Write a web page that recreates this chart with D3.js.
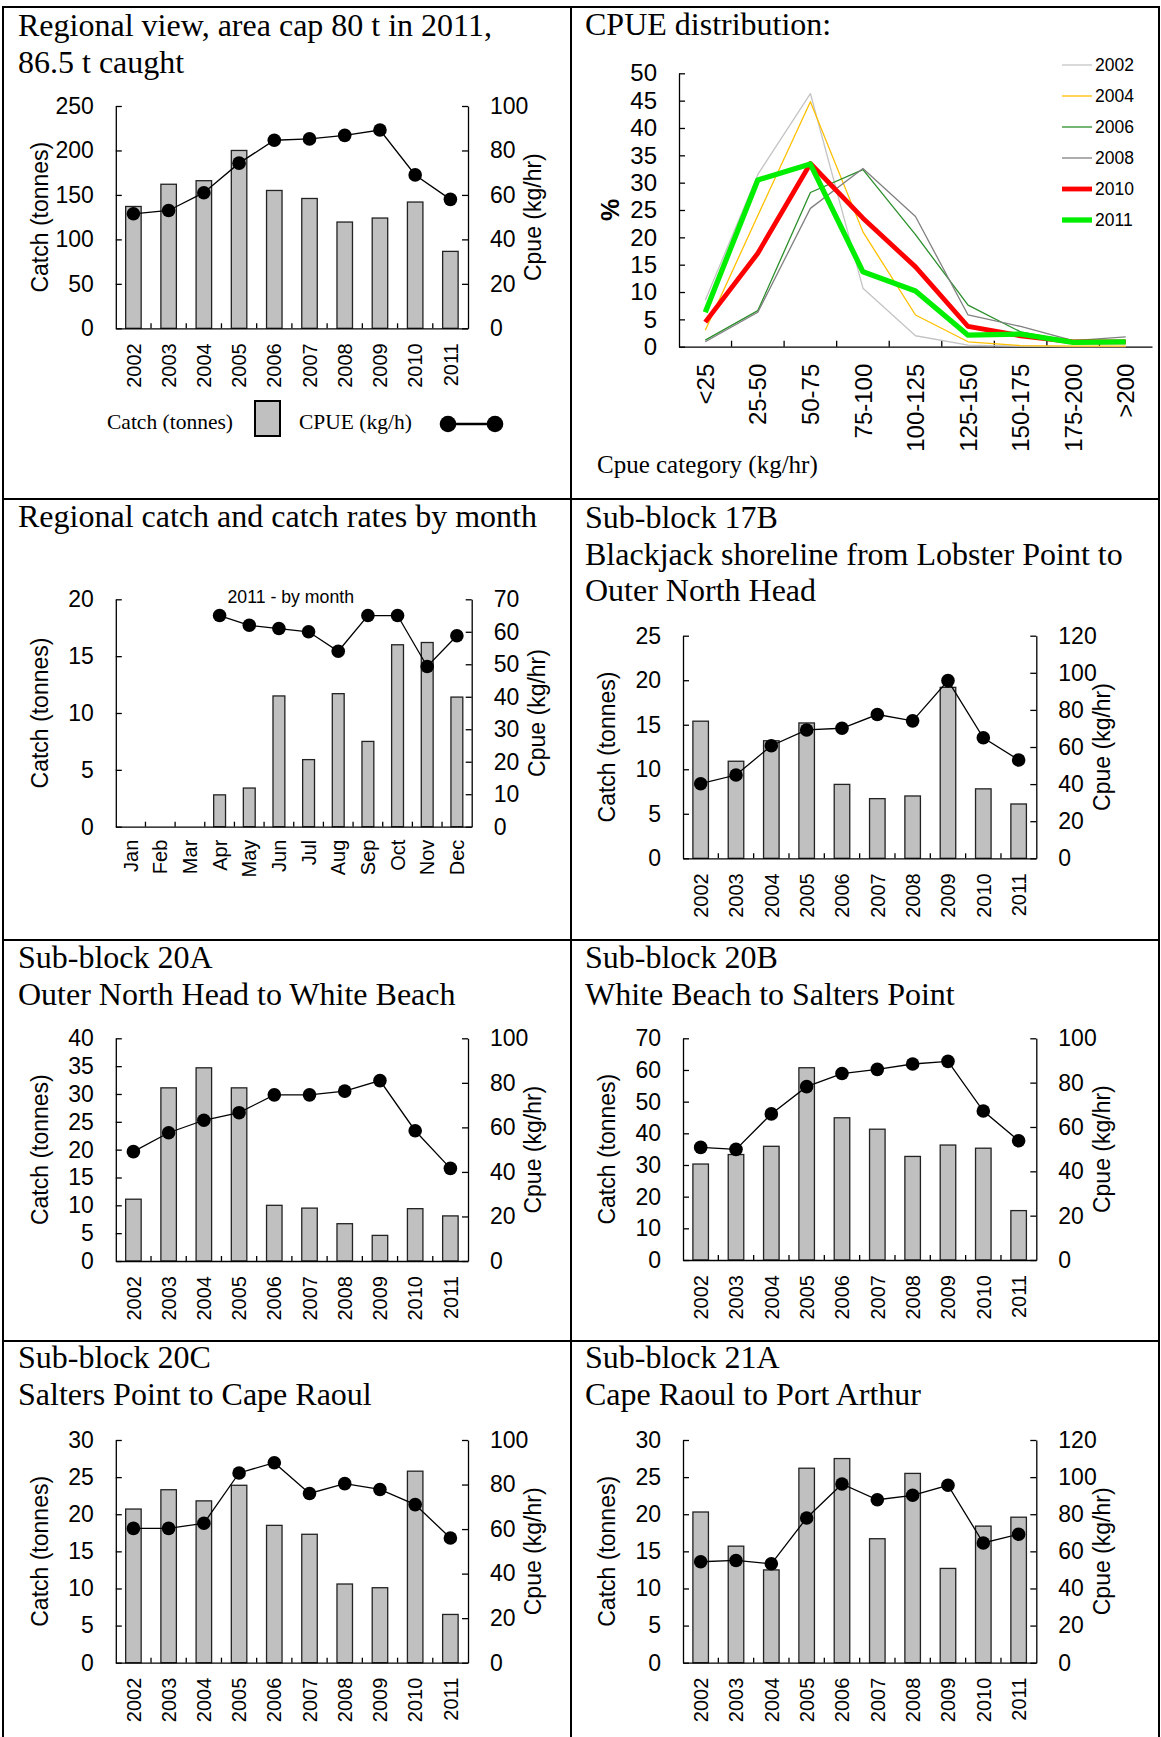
<head>
    <meta charset="utf-8" />
    <script src="https://d3js.org/d3.v7.min.js"></script>
</head>
<style>
    body { margin: 0; background: #fff; }
    text { fill: #000; }
</style>
<body>
</body>
<script>
// ---- data ----
var years = ["2002","2003","2004","2005","2006","2007","2008","2009","2010","2011"];
var months = ["Jan","Feb","Mar","Apr","May","Jun","Jul","Aug","Sep","Oct","Nov","Dec"];
var cpueCategories = ["<25","25-50","50-75","75-100","100-125","125-150","150-175","175-200",">200"];

var regionCatch = [137, 162, 166, 200, 155, 146, 119.5, 124, 142, 86.5];
var regionCpue  = [51.5, 53, 61, 74.3, 84.6, 85.2, 86.8, 89.2, 69, 58];

var monthCatch = [null, null, null, 2.8, 3.4, 11.5, 5.9, 11.7, 7.5, 16.0, 16.2, 11.4];
var monthCpue  = [null, null, null, 65, 62, 61, 60, 54, 65, 65, 49.3, 58.8];

var dist2002 = [8.5, 31.5, 46.3, 10.7, 2, 0.3, 0.1, 0, 0];
var dist2004 = [3, 24, 44.8, 21, 5.8, 0.9, 0.2, 0.1, 0.1];
var dist2006 = [1.2, 6.6, 28.2, 32.4, 20.5, 7.6, 2.7, 0.9, 1.0];
var dist2008 = [0.9, 6.3, 25.3, 32.6, 23.8, 5.8, 3.7, 1.1, 1.8];
var dist2010 = [4.5, 17.1, 33.5, 23.5, 14.6, 3.7, 2.0, 0.9, 0.9];
var dist2011 = [6.3, 30.5, 33.4, 13.7, 10.2, 2.1, 2.3, 0.8, 0.9];
var distYears = ["2002","2004","2006","2008","2010","2011"];

var catch17B = [15.4, 10.9, 13.2, 15.2, 8.3, 6.7, 7.0, 19.2, 7.8, 6.1];
var cpue17B  = [40.2, 44.9, 60.7, 69.2, 70.1, 77.5, 74.1, 95.8, 65, 53];

var catch20A = [11.1, 31.1, 34.7, 31.1, 10, 9.5, 6.7, 4.6, 9.4, 8.1];
var cpue20A  = [49.1, 57.6, 63.2, 66.6, 74.6, 74.6, 76.3, 81, 58.5, 41.6];

var catch20B = [30.3, 33.3, 35.9, 60.7, 44.9, 41.3, 32.7, 36.3, 35.3, 15.6];
var cpue20B  = [50.8, 49.9, 65.9, 78.2, 84.1, 86, 88.4, 89.6, 67.2, 53.8];

var catch20C = [20.7, 23.3, 21.8, 23.9, 18.5, 17.3, 10.6, 10.1, 25.8, 6.5];
var cpue20C  = [60.3, 60.3, 62.6, 85.2, 89.8, 76, 80.4, 77.8, 71, 56];

var catch21A = [20.3, 15.7, 12.5, 26.2, 27.5, 16.7, 25.5, 12.7, 18.4, 19.6];
var cpue21A  = [54.4, 55.1, 53.3, 78, 96.3, 87.8, 90.2, 95.6, 64.5, 69.2];

// ---- page ----
var W = 1161, H = 1737;
var serif = "'Liberation Serif', 'Times New Roman', serif";
var sans = "'Liberation Sans', Arial, sans-serif";

var svg = d3.select("body").append("svg")
    .attr("width", W).attr("height", H)
    .style("display", "block");

svg.append("rect").attr("width", W).attr("height", H).attr("fill", "#fff");

// table frame
var gridX = [3, 571, 1159];
var gridY = [7, 499, 940, 1341];
gridX.forEach(function (x) {
    svg.append("line").attr("x1", x).attr("x2", x).attr("y1", 6).attr("y2", H)
        .attr("stroke", "#000").attr("stroke-width", 2);
});
gridY.forEach(function (y) {
    svg.append("line").attr("x1", 2).attr("x2", 1160).attr("y1", y).attr("y2", y)
        .attr("stroke", "#000").attr("stroke-width", 2);
});

function title(x, y, lines) {
    var t = svg.append("text").attr("x", x).attr("y", y)
        .style("font-family", serif).style("font-size", "32px");
    lines.forEach(function (l, i) {
        t.append("tspan").attr("x", x).attr("dy", i == 0 ? 0 : 36.5).text(l);
    });
}

function styleAxis(g) {
    g.select(".domain").attr("stroke", "#000").attr("stroke-width", 1.3);
    g.selectAll(".tick line").attr("stroke", "#000").attr("stroke-width", 1.3);
    g.selectAll("text").style("font-family", sans).attr("fill", "#000");
}

// bar + line chart with catch on the left and cpue on the right
function combo(p) {
    var g = svg.append("g");
    var x = d3.scaleBand().domain(p.cats).range([p.x0, p.x1]);
    var yL = d3.scaleLinear().domain([0, p.leftMax]).range([p.yBot, p.yTop]);
    var yR = d3.scaleLinear().domain([0, p.rightMax]).range([p.yBot, p.yTop]);
    var bw = x.bandwidth() * p.barFrac;

    var rows = p.cats.map(function (c, i) { return {c: c, v: p.bars[i], r: p.line[i]}; });

    g.selectAll("rect.bar").data(rows.filter(function (d) { return d.v != null; }))
        .enter().append("rect").attr("class", "bar")
        .attr("x", function (d) { return x(d.c) + (x.bandwidth() - bw) / 2; })
        .attr("width", bw)
        .attr("y", function (d) { return yL(d.v); })
        .attr("height", function (d) { return yL(0) - yL(d.v); })
        .attr("fill", "#c0c0c0").attr("stroke", "#222").attr("stroke-width", 1.3);

    var ax = g.append("g").attr("transform", "translate(" + p.x0 + ",0)")
        .call(d3.axisLeft(yL).tickValues(d3.range(0, p.leftMax + 0.01, p.leftStep))
            .tickSize(-6).tickSizeOuter(0).tickPadding(22));
    styleAxis(ax);
    ax.selectAll("text").style("font-size", "23px");

    var ar = g.append("g").attr("transform", "translate(" + p.x1 + ",0)")
        .call(d3.axisRight(yR).tickValues(d3.range(0, p.rightMax + 0.01, p.rightStep))
            .tickSize(-6).tickSizeOuter(0).tickPadding(22));
    styleAxis(ar);
    ar.selectAll("text").style("font-size", "23px");

    var ab = g.append("g").attr("transform", "translate(0," + p.yBot + ")")
        .call(d3.axisBottom(x).tickSize(0).tickSizeOuter(0));
    styleAxis(ab);
    ab.selectAll("text").style("font-size", "20px")
        .attr("transform", "rotate(-90)").attr("x", -p.labelGap).attr("y", 0)
        .attr("dy", "0.36em").style("text-anchor", "end");

    // ticks between categories, pointing up
    g.selectAll("line.sep").data(p.cats.slice(1)).enter().append("line")
        .attr("x1", function (d) { return x(d); }).attr("x2", function (d) { return x(d); })
        .attr("y1", p.yBot).attr("y2", p.yBot - 5)
        .attr("stroke", "#000").attr("stroke-width", 1.3);

    var line = d3.line()
        .defined(function (d) { return d.r != null; })
        .x(function (d) { return x(d.c) + x.bandwidth() / 2; })
        .y(function (d) { return yR(d.r); });
    g.append("path").datum(rows).attr("d", line)
        .attr("fill", "none").attr("stroke", "#000").attr("stroke-width", 1.3);
    g.selectAll("circle.pt").data(rows.filter(function (d) { return d.r != null; }))
        .enter().append("circle").attr("class", "pt")
        .attr("cx", function (d) { return x(d.c) + x.bandwidth() / 2; })
        .attr("cy", function (d) { return yR(d.r); })
        .attr("r", 6.8).attr("fill", "#000");

    var mid = (p.yTop + p.yBot) / 2;
    g.append("text").attr("transform", "translate(" + (p.x0 - 76) + "," + mid + ") rotate(-90)")
        .attr("dy", "0.36em").style("text-anchor", "middle")
        .style("font-family", sans).style("font-size", "23px").text("Catch (tonnes)");
    g.append("text").attr("transform", "translate(" + (p.x1 + 65) + "," + mid + ") rotate(-90)")
        .attr("dy", "0.36em").style("text-anchor", "middle")
        .style("font-family", sans).style("font-size", "23px").text("Cpue (kg/hr)");
    return g;
}

// ---- panel 1 ----
title(18, 36, ["Regional view, area cap 80 t in 2011,", "86.5 t caught"]);
combo({cats: years, bars: regionCatch, line: regionCpue, x0: 115.8, x1: 468, yTop: 106, yBot: 328.3,
    leftMax: 250, leftStep: 50, rightMax: 100, rightStep: 20, barFrac: 0.44, labelGap: 15});

// legend
svg.append("text").attr("x", 107).attr("y", 429).style("font-family", serif).style("font-size", "21.5px")
    .text("Catch (tonnes)");
svg.append("rect").attr("x", 255).attr("y", 401).attr("width", 25).attr("height", 35)
    .attr("fill", "#c0c0c0").attr("stroke", "#000").attr("stroke-width", 2);
svg.append("text").attr("x", 299).attr("y", 429).style("font-family", serif).style("font-size", "21.5px")
    .text("CPUE (kg/h)");
svg.append("line").attr("x1", 448).attr("x2", 495).attr("y1", 424).attr("y2", 424)
    .attr("stroke", "#000").attr("stroke-width", 2.5);
[448, 495].forEach(function (cx) {
    svg.append("circle").attr("cx", cx).attr("cy", 424).attr("r", 8.3).attr("fill", "#000");
});

// ---- panel 2 : cpue distribution ----
title(585, 35, ["CPUE distribution:"]);
(function () {
    var g = svg.append("g");
    var x = d3.scaleBand().domain(cpueCategories).range([679, 1152]);
    var y = d3.scaleLinear().domain([0, 50]).range([346.7, 73.3]);
    var series = [
        {name: "2002", v: dist2002, color: "#c4c4c4", w: 1.3},
        {name: "2004", v: dist2004, color: "#ffc000", w: 1.3},
        {name: "2006", v: dist2006, color: "#2a8f2a", w: 1.3},
        {name: "2008", v: dist2008, color: "#808080", w: 1.3},
        {name: "2010", v: dist2010, color: "#ff0000", w: 4.8},
        {name: "2011", v: dist2011, color: "#00ee00", w: 5.3}
    ];

    var ay = g.append("g").attr("transform", "translate(679,0)")
        .call(d3.axisLeft(y).tickValues(d3.range(0, 51, 5)).tickSize(-6).tickSizeOuter(0).tickPadding(22));
    styleAxis(ay);
    ay.selectAll("text").style("font-size", "24px");

    var ab = g.append("g").attr("transform", "translate(0,346.7)")
        .call(d3.axisBottom(x).tickSize(0).tickSizeOuter(0));
    styleAxis(ab);
    ab.selectAll("text").style("font-size", "24px")
        .attr("transform", "rotate(-90)").attr("x", -17).attr("y", 0)
        .attr("dy", "0.36em").style("text-anchor", "end");
    g.selectAll("line.sep").data(cpueCategories.slice(1)).enter().append("line")
        .attr("x1", function (d) { return x(d); }).attr("x2", function (d) { return x(d); })
        .attr("y1", 346.7).attr("y2", 340.7).attr("stroke", "#000").attr("stroke-width", 1.3);

    var line = d3.line()
        .x(function (d, i) { return x(cpueCategories[i]) + x.bandwidth() / 2; })
        .y(function (d) { return y(d); });
    series.forEach(function (s) {
        g.append("path").datum(s.v).attr("d", line).attr("fill", "none")
            .attr("stroke", s.color).attr("stroke-width", s.w).attr("stroke-linejoin", "round");
    });

    // legend
    var ly = d3.scalePoint().domain(distYears).range([65, 220]);
    series.forEach(function (s) {
        g.append("line").attr("x1", 1062).attr("x2", 1092).attr("y1", ly(s.name)).attr("y2", ly(s.name))
            .attr("stroke", s.color).attr("stroke-width", s.w);
        g.append("text").attr("x", 1095).attr("y", ly(s.name)).attr("dy", "0.36em")
            .style("font-family", sans).style("font-size", "17.5px").text(s.name);
    });

    g.append("text").attr("transform", "translate(610,210) rotate(-90)")
        .attr("dy", "0.36em").style("text-anchor", "middle")
        .style("font-family", sans).style("font-size", "25px").style("font-weight", "bold").text("%");
    g.append("text").attr("x", 597).attr("y", 473)
        .style("font-family", serif).style("font-size", "25px").text("Cpue category (kg/hr)");
})();

// ---- panel 3 : by month ----
title(18, 527, ["Regional catch and catch rates by month"]);
combo({cats: months, bars: monthCatch, line: monthCpue, x0: 115.8, x1: 471.7, yTop: 599.3, yBot: 826.7,
    leftMax: 20, leftStep: 5, rightMax: 70, rightStep: 10, barFrac: 0.4, labelGap: 13});
svg.append("text").attr("x", 227.5).attr("y", 603).style("font-family", sans).style("font-size", "17.7px")
    .text("2011 - by month");

// ---- panel 4 ----
title(585, 528, ["Sub-block 17B", "Blackjack shoreline from Lobster Point to", "Outer North Head"]);
combo({cats: years, bars: catch17B, line: cpue17B, x0: 683, x1: 1036.3, yTop: 635.7, yBot: 858.3,
    leftMax: 25, leftStep: 5, rightMax: 120, rightStep: 20, barFrac: 0.44, labelGap: 15});

// ---- panel 5 ----
title(18, 968, ["Sub-block 20A", "Outer North Head to White Beach"]);
combo({cats: years, bars: catch20A, line: cpue20A, x0: 115.8, x1: 468, yTop: 1038.3, yBot: 1261,
    leftMax: 40, leftStep: 5, rightMax: 100, rightStep: 20, barFrac: 0.44, labelGap: 15});

// ---- panel 6 ----
title(585, 968, ["Sub-block 20B", "White Beach to Salters Point"]);
combo({cats: years, bars: catch20B, line: cpue20B, x0: 683, x1: 1036.3, yTop: 1038.3, yBot: 1260,
    leftMax: 70, leftStep: 10, rightMax: 100, rightStep: 20, barFrac: 0.44, labelGap: 15});

// ---- panel 7 ----
title(18, 1368, ["Sub-block 20C", "Salters Point to Cape Raoul"]);
combo({cats: years, bars: catch20C, line: cpue20C, x0: 115.8, x1: 468, yTop: 1440, yBot: 1662.7,
    leftMax: 30, leftStep: 5, rightMax: 100, rightStep: 20, barFrac: 0.44, labelGap: 15});

// ---- panel 8 ----
title(585, 1368, ["Sub-block 21A", "Cape Raoul to Port Arthur"]);
combo({cats: years, bars: catch21A, line: cpue21A, x0: 683, x1: 1036.3, yTop: 1440, yBot: 1662.7,
    leftMax: 30, leftStep: 5, rightMax: 120, rightStep: 20, barFrac: 0.44, labelGap: 15});
</script>
